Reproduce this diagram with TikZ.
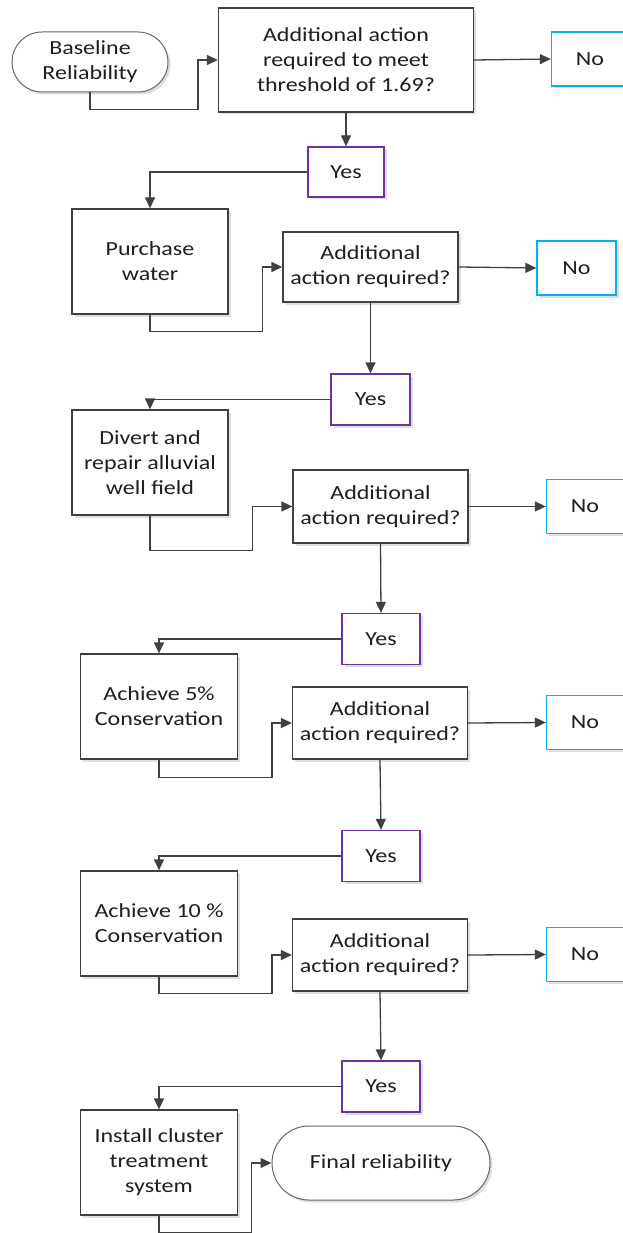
\documentclass[tikz,border=0pt]{standalone}
\usepackage{fontspec}
\setmainfont{Carlito}[FakeStretch=1.2]
\usetikzlibrary{shapes.misc, arrows.meta, positioning, calc, shadows}
\definecolor{flowgray}{RGB}{64,64,64}
\definecolor{flowtext}{RGB}{30,30,30}
\definecolor{flowcyan}{RGB}{0,176,240}
\definecolor{flowpurple}{RGB}{112,48,160}
\definecolor{flowshadow}{RGB}{222,222,222}
\tikzset{
  %% ---- boxes ----
  flowbox/.style  = {rectangle, inner sep=0pt, align=center,
                     fill=white, text=flowtext, line width=1.3pt,
                     drop shadow={shadow xshift=2.5pt, shadow yshift=-2.5pt,
                                  fill=flowshadow, opacity=1}},
  stepbox/.style  = {flowbox, draw=flowgray,
                     minimum width=157pt, minimum height=105pt},
  askbox/.style   = {flowbox, draw=flowgray,
                     minimum width=175pt, minimum height=72pt},
  yesbox/.style   = {flowbox, draw=flowpurple,
                     minimum width=78pt, minimum height=51pt},
  nobox/.style    = {flowbox, draw=flowcyan,
                     minimum width=77pt, minimum height=54pt},
  termbox/.style  = {flowbox, rounded rectangle, draw=flowgray!80,
                     line width=1pt},
  %% ---- arrows ----
  arrow/.style    = {-{Triangle[length=11pt, width=10pt]},
                     line width=1.3pt, color=flowgray},
}

\begin{document}
\begin{tikzpicture}[x=1pt, y=-1pt, font=\fontsize{20}{25}\selectfont]
  \useasboundingbox (0,0) rectangle (623,1233);

  %% Start and first question
  \node[termbox, minimum width=156pt, minimum height=60pt] (base) at (90,62)
    {Baseline\\Reliability};
  \node[askbox, minimum width=255pt, minimum height=104pt] (q1) at (346,60)
    {Additional action\\required to meet\\threshold of 1.69?};
  \node[nobox] (no1) at (590,59) {No};
  \node[yesbox, minimum width=76pt, minimum height=50pt] (yes1) at (346,172) {Yes};

  %% Purchase water
  \node[stepbox, minimum width=156pt] (act1) at (150,261.5) {Purchase\\water};
  \node[askbox, minimum height=70pt] (q2) at (370.5,267)
    {Additional\\action required?};
  \node[nobox, minimum width=79pt] (no2) at (576.5,268) {No};
  \node[yesbox, minimum width=79pt] (yes2) at (370.5,399.5) {Yes};

  %% Alluvial well field
  \node[stepbox, minimum width=156pt] (act2) at (150,462.5)
    {Divert and\\repair alluvial\\well field};
  \node[askbox, minimum height=73pt] (q3) at (380.5,506.5)
    {Additional\\action required?};
  \node[nobox] (no3) at (585,506.5) {No};
  \node[yesbox] (yes3) at (381,639) {Yes};

  %% 5% conservation
  \node[stepbox] (act3) at (159,706.5) {Achieve 5\%\\Conservation};
  \node[askbox] (q4) at (380,723) {Additional\\action required?};
  \node[nobox] (no4) at (585,722.5) {No};
  \node[yesbox] (yes4) at (381,856) {Yes};

  %% 10% conservation
  \node[stepbox] (act4) at (159,923.5) {Achieve 10 \%\\Conservation};
  \node[askbox] (q5) at (380,955) {Additional\\action required?};
  \node[nobox] (no5) at (585,954.5) {No};
  \node[yesbox] (yes5) at (381,1086.5) {Yes};

  %% Cluster treatment and end
  \node[stepbox] (act5) at (159,1162.5)
    {Install cluster\\treatment\\system};
  \node[termbox, minimum width=218pt, minimum height=74pt] (fin) at (381,1163)
    {Final reliability};

  %% elbow connectors into each question
  \foreach \a/\b/\d/\e in {base/q1/17/20, act1/q2/17/20, act2/q3/35/40,
                           act3/q4/18/20, act4/q5/17/20, act5/fin/17/20}
    \draw[arrow] (\a.south) -- ++(0,\d) -| ($(\b.west)+(-\e,0)$) -- (\b.west);

  \foreach \q/\n/\y in {q1/no1/yes1, q2/no2/yes2, q3/no3/yes3,
                        q4/no4/yes4, q5/no5/yes5} {
    \draw[arrow] (\q.east) -- (\n.west);
    \draw[arrow] (\q.south) -- (\y.north);
  }

  \foreach \y/\a in {yes1/act1, yes2/act2, yes3/act3, yes4/act4, yes5/act5}
    \draw[arrow] (\y.west) -| (\a.north);

\end{tikzpicture}
\end{document}
